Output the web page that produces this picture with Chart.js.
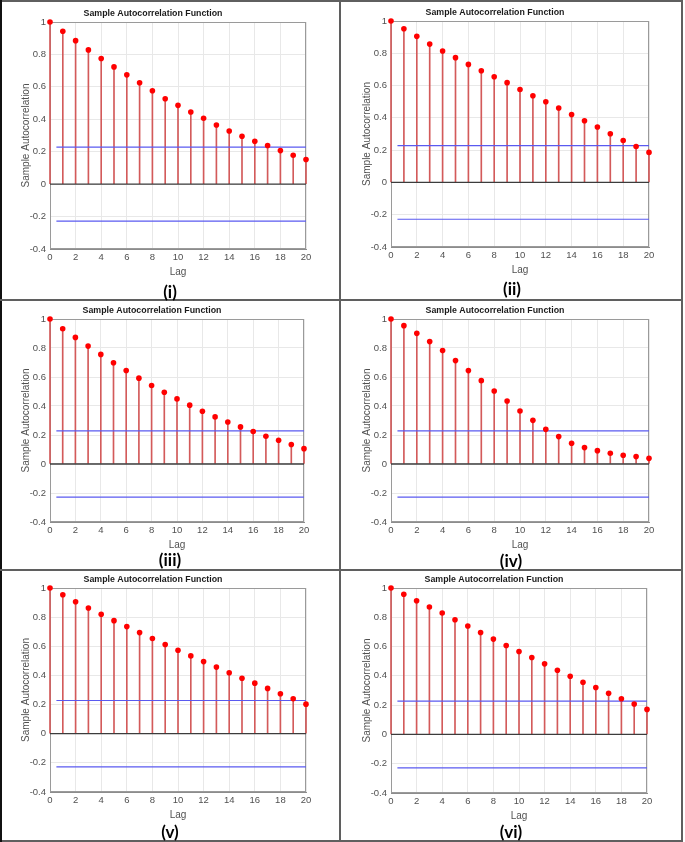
<!DOCTYPE html>
<html lang="en">
<head>
<meta charset="UTF-8">
<title>Sample Autocorrelation Function</title>
<script src="https://cdn.jsdelivr.net/npm/chart.js"></script>
<style>
    html, body { margin: 0; padding: 0; background: #fff; }
    #page { position: relative; width: 685px; height: 842px; overflow: hidden; background: #fff; }
    .rule { position: absolute; background: #5f5f5f; }
    .panel { position: absolute; }
    .tag {
        position: absolute; width: 120px; margin-left: -60px; text-align: center;
        font: bold 17px Lato, "Open Sans", sans-serif; line-height: 20px; color: #000;
    }
</style>
</head>
<body>
<div id="page"></div>

<script>
    // ---- data ----
    const lags = [0, 1, 2, 3, 4, 5, 6, 7, 8, 9, 10, 11, 12, 13, 14, 15, 16, 17, 18, 19, 20];

    const acfI   = [1, 0.943, 0.885, 0.828, 0.775, 0.723, 0.674, 0.625, 0.576, 0.527, 0.486,
                    0.445, 0.406, 0.365, 0.328, 0.295, 0.264, 0.238, 0.207, 0.178, 0.152];
    const acfII  = [1, 0.952, 0.905, 0.857, 0.814, 0.773, 0.731, 0.692, 0.655, 0.618, 0.576,
                    0.537, 0.500, 0.461, 0.421, 0.382, 0.343, 0.302, 0.260, 0.223, 0.186];
    const acfIII = [1, 0.933, 0.873, 0.813, 0.756, 0.698, 0.645, 0.592, 0.541, 0.495, 0.449,
                    0.406, 0.364, 0.325, 0.290, 0.256, 0.224, 0.191, 0.164, 0.134, 0.106];
    const acfIV  = [1, 0.954, 0.901, 0.844, 0.782, 0.713, 0.644, 0.575, 0.503, 0.434, 0.366,
                    0.301, 0.239, 0.189, 0.143, 0.113, 0.092, 0.074, 0.060, 0.051, 0.039];
    const acfV   = [1, 0.954, 0.906, 0.863, 0.820, 0.776, 0.735, 0.694, 0.653, 0.612, 0.573,
                    0.534, 0.495, 0.457, 0.418, 0.381, 0.347, 0.311, 0.274, 0.240, 0.203];
    const acfVI  = [1, 0.957, 0.913, 0.870, 0.829, 0.783, 0.740, 0.696, 0.651, 0.607, 0.566,
                    0.525, 0.482, 0.438, 0.397, 0.356, 0.320, 0.281, 0.244, 0.208, 0.171];

    const confBounds = [0.228, 0.228, 0.228, 0.228, 0.228, 0.228];
    const panelLabels = ['(i)', '(ii)', '(iii)', '(iv)', '(v)', '(vi)'];
    const xTicks = [0, 2, 4, 6, 8, 10, 12, 14, 16, 18, 20];
    const yTicks = [-0.4, -0.2, 0, 0.2, 0.4, 0.6, 0.8, 1];
    const boundStart = 0.5;

    const series = [acfI, acfII, acfIII, acfIV, acfV, acfVI];

    // ---- layout: plot box of each panel in page pixels ----
    const plotBoxes = [
        { l: 50,  t: 22,  w: 256, h: 227 },
        { l: 391, t: 21,  w: 258, h: 226 },
        { l: 50,  t: 319, w: 254, h: 203 },
        { l: 391, t: 319, w: 258, h: 203 },
        { l: 50,  t: 588, w: 256, h: 204 },
        { l: 391, t: 588, w: 256, h: 205 }
    ];
    const tagCenters = [[170, 292], [512, 289], [170, 560], [511, 561], [170, 832], [511, 832]];

    const AXIS_W = 50, TITLE_H = 22, XAXIS_H = 34, PAD_R = 10;
    const page = document.getElementById('page');

    // frame and dividers
    function rule(x, y, w, h, color) {
        const d = document.createElement('div');
        d.className = 'rule';
        Object.assign(d.style, { left: x + 'px', top: y + 'px', width: w + 'px', height: h + 'px' });
        if (color) d.style.background = color;
        page.appendChild(d);
    }
    rule(0, 0, 683, 2);
    rule(0, 840, 683, 2);
    rule(0, 0, 2, 842, '#111');
    rule(681, 0, 2, 842);
    rule(339, 0, 2, 842);
    rule(0, 299, 683, 2);
    rule(0, 569, 683, 2);

    // plot box border on top/right (MATLAB "box on"), drawn before the data
    const boxPlugin = {
        id: 'box',
        beforeDatasetsDraw(chart) {
            const a = chart.chartArea, c = chart.ctx;
            c.save();
            c.strokeStyle = '#9a9a9a';
            c.lineWidth = 1;
            c.strokeRect(Math.round(a.left) + 0.5, Math.round(a.top) + 0.5,
                         Math.round(a.right - a.left) - 1, Math.round(a.bottom - a.top) - 1);
            c.restore();
        }
    };

    const tickFont = { family: 'Liberation Sans, Arial, sans-serif', size: 9.5 };
    const labelColor = '#505050';

    function makePanel(i) {
        const box = plotBoxes[i];
        const values = series[i];
        const bound = confBounds[i];
        const lagMax = lags[lags.length - 1];
        const points = lags.map((l, k) => ({ x: l, y: values[k] }));

        const holder = document.createElement('div');
        holder.className = 'panel';
        holder.style.left = (box.l - AXIS_W) + 'px';
        holder.style.top = (box.t - TITLE_H) + 'px';
        const canvas = document.createElement('canvas');
        canvas.width = box.w + AXIS_W + PAD_R;
        canvas.height = box.h + TITLE_H + XAXIS_H;
        holder.appendChild(canvas);
        page.appendChild(holder);

        const tag = document.createElement('div');
        tag.className = 'tag';
        tag.textContent = panelLabels[i];
        tag.style.left = tagCenters[i][0] + 'px';
        tag.style.top = (tagCenters[i][1] - 10) + 'px';
        page.appendChild(tag);

        new Chart(canvas.getContext('2d'), {
            type: 'scatter',
            data: {
                datasets: [
                    {
                        type: 'scatter', data: points, order: 0, clip: false,
                        pointRadius: 2.8, pointBackgroundColor: '#ff0000', pointBorderWidth: 0
                    },
                    {
                        type: 'line', order: 1, data: [{ x: boundStart, y: bound }, { x: lagMax, y: bound }],
                        borderColor: '#5a5af0', borderWidth: 1.2, pointRadius: 0
                    },
                    {
                        type: 'line', order: 1, data: [{ x: boundStart, y: -bound }, { x: lagMax, y: -bound }],
                        borderColor: '#5a5af0', borderWidth: 1.2, pointRadius: 0
                    },
                    {
                        type: 'line', order: 2, data: [{ x: 0, y: 0 }, { x: lagMax, y: 0 }],
                        borderColor: '#3c3c3c', borderWidth: 1.3, pointRadius: 0
                    },
                    {
                        type: 'bar', order: 3, data: points, clip: false,
                        barThickness: 1, backgroundColor: '#d35a5a', grouped: false
                    }
                ]
            },
            options: {
                responsive: false,
                animation: false,
                events: [],
                layout: { padding: { left: 0, right: PAD_R, top: 0, bottom: 0 } },
                plugins: {
                    legend: { display: false },
                    tooltip: { enabled: false },
                    title: {
                        display: true,
                        text: 'Sample Autocorrelation Function',
                        color: '#1a1a1a',
                        font: { family: 'Liberation Sans, Arial, sans-serif', size: 8.8, weight: 'bold', lineHeight: 1.25 },
                        padding: { top: 8, bottom: 3 }
                    }
                },
                scales: {
                    x: {
                        type: 'linear', min: 0, max: lagMax, offset: false,
                        afterBuildTicks: s => { s.ticks = xTicks.map(v => ({ value: v })); },
                        afterFit: s => { s.height = XAXIS_H; },
                        grid: { color: '#e8e8e8', drawTicks: false, offset: false },
                        border: { color: '#8c8c8c' },
                        ticks: { padding: 3, color: labelColor, font: tickFont, maxRotation: 0, autoSkip: false },
                        title: {
                            display: true, text: 'Lag', color: labelColor,
                            font: { family: 'Liberation Sans, Arial, sans-serif', size: 10 },
                            padding: { top: 0, bottom: 5 }
                        }
                    },
                    y: {
                        type: 'linear', min: yTicks[0], max: yTicks[yTicks.length - 1],
                        afterBuildTicks: s => { s.ticks = yTicks.map(v => ({ value: v })); },
                        afterFit: s => { s.width = AXIS_W; },
                        grid: { color: '#e8e8e8', drawTicks: false },
                        border: { color: '#8c8c8c' },
                        ticks: {
                            padding: 4, color: labelColor, font: tickFont, autoSkip: false,
                            callback: v => String(Number(v.toFixed(1)))
                        },
                        title: {
                            display: true, text: 'Sample Autocorrelation', color: labelColor,
                            font: { family: 'Liberation Sans, Arial, sans-serif', size: 10 },
                            padding: { top: 20, bottom: 0 }
                        }
                    }
                }
            },
            plugins: [boxPlugin]
        });
    }

    for (let i = 0; i < series.length; i++) makePanel(i);
</script>
</body>
</html>
